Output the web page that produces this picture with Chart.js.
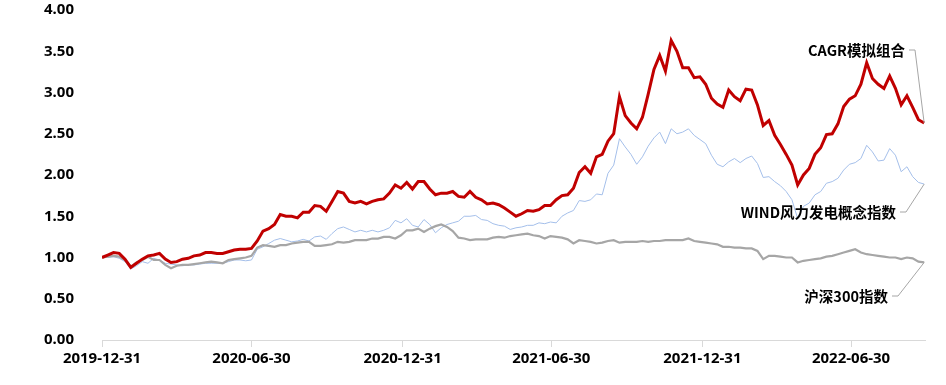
<!DOCTYPE html>
<html>
<head>
<meta charset="utf-8">
<style>
  body { margin: 0; background: #fff; }
  #wrap { width: 946px; height: 385px; }
</style>
</head>
<body>
<div id="wrap"><canvas id="nav-canvas" width="946" height="385"></canvas></div>
<script src="https://cdn.jsdelivr.net/npm/chart.js@4.4.1/dist/chart.umd.min.js"></script>
<script>
    // weekly net values, first point = 2019-12-31
    let cagr = [1.00, 1.03, 1.06, 1.05, 0.98, 0.88, 0.93, 0.98, 1.02, 1.03,
      1.05, 0.98, 0.94, 0.95, 0.98, 0.99, 1.02, 1.03, 1.06, 1.06,
      1.05, 1.05, 1.07, 1.09, 1.10, 1.10, 1.11, 1.20, 1.32, 1.35,
      1.40, 1.52, 1.50, 1.50, 1.48, 1.55, 1.55, 1.63, 1.62, 1.56,
      1.68, 1.80, 1.78, 1.68, 1.66, 1.68, 1.65, 1.68, 1.70, 1.71,
      1.78, 1.88, 1.84, 1.91, 1.83, 1.92, 1.92, 1.83, 1.76, 1.78,
      1.78, 1.80, 1.74, 1.73, 1.80, 1.73, 1.70, 1.65, 1.66, 1.64,
      1.60, 1.55, 1.50, 1.53, 1.57, 1.56, 1.58, 1.63, 1.63, 1.70,
      1.75, 1.76, 1.84, 2.03, 2.10, 2.02, 2.22, 2.25, 2.41, 2.50,
      2.95, 2.72, 2.63, 2.56, 2.70, 2.98, 3.28, 3.45, 3.26, 3.63,
      3.50, 3.30, 3.30, 3.18, 3.19, 3.10, 2.93, 2.86, 2.82, 3.03,
      2.95, 2.90, 3.04, 3.03, 2.85, 2.60, 2.66, 2.48, 2.37, 2.25,
      2.12, 1.88, 2.00, 2.08, 2.25, 2.33, 2.49, 2.50, 2.62, 2.83,
      2.92, 2.96, 3.10, 3.36, 3.17, 3.10, 3.05, 3.20, 3.05, 2.85,
      2.96, 2.82, 2.67, 2.63];

    let wind = [1.00, 1.00, 1.01, 0.99, 0.95, 0.86, 0.90, 0.95, 0.93, 0.99,
      0.97, 0.93, 0.92, 0.91, 0.90, 0.91, 0.91, 0.92, 0.93, 0.93,
      0.93, 0.93, 0.95, 0.97, 0.97, 0.96, 0.97, 1.10, 1.13, 1.17,
      1.21, 1.23, 1.21, 1.19, 1.20, 1.22, 1.20, 1.25, 1.26, 1.22,
      1.29, 1.35, 1.37, 1.34, 1.31, 1.33, 1.31, 1.33, 1.31, 1.33,
      1.36, 1.45, 1.42, 1.47, 1.39, 1.37, 1.46, 1.40, 1.30, 1.36,
      1.40, 1.42, 1.44, 1.50, 1.50, 1.51, 1.46, 1.45, 1.41, 1.39,
      1.38, 1.34, 1.36, 1.37, 1.39, 1.39, 1.42, 1.41, 1.43, 1.42,
      1.50, 1.54, 1.57, 1.69, 1.68, 1.70, 1.77, 1.76, 2.02, 2.12,
      2.44, 2.34, 2.25, 2.13, 2.22, 2.35, 2.45, 2.52, 2.38, 2.56,
      2.50, 2.52, 2.56, 2.48, 2.43, 2.38, 2.24, 2.13, 2.10, 2.16,
      2.20, 2.15, 2.20, 2.23, 2.14, 1.97, 1.98, 1.92, 1.87, 1.80,
      1.70, 1.47, 1.62, 1.66, 1.76, 1.80, 1.90, 1.92, 1.96, 2.06,
      2.13, 2.15, 2.20, 2.36, 2.28, 2.17, 2.18, 2.32, 2.24, 2.04,
      2.10, 1.98, 1.91, 1.89];

    let hs300 = [1.00, 1.01, 1.02, 1.01, 0.97, 0.89, 0.94, 0.97, 1.01, 0.97,
      0.97, 0.91, 0.87, 0.90, 0.91, 0.91, 0.92, 0.93, 0.94, 0.95,
      0.94, 0.93, 0.97, 0.98, 0.99, 1.00, 1.02, 1.12, 1.15, 1.14,
      1.13, 1.15, 1.15, 1.17, 1.18, 1.19, 1.19, 1.14, 1.14, 1.15,
      1.16, 1.19, 1.18, 1.19, 1.21, 1.21, 1.21, 1.23, 1.23, 1.25,
      1.25, 1.23, 1.27, 1.33, 1.33, 1.35, 1.31, 1.35, 1.38, 1.40,
      1.37, 1.32, 1.24, 1.23, 1.21, 1.22, 1.22, 1.22, 1.24, 1.25,
      1.24, 1.26, 1.27, 1.28, 1.29, 1.27, 1.26, 1.23, 1.26, 1.25,
      1.24, 1.22, 1.17, 1.21, 1.20, 1.19, 1.17, 1.18, 1.20, 1.21,
      1.18, 1.19, 1.19, 1.19, 1.20, 1.19, 1.20, 1.20, 1.21, 1.21,
      1.21, 1.21, 1.23, 1.20, 1.19, 1.18, 1.17, 1.16, 1.13, 1.13,
      1.12, 1.12, 1.11, 1.11, 1.08, 0.98, 1.02, 1.02, 1.01, 1.00,
      1.00, 0.94, 0.96, 0.97, 0.98, 0.99, 1.01, 1.02, 1.04, 1.06,
      1.08, 1.10, 1.06, 1.04, 1.03, 1.02, 1.01, 1.00, 1.00, 0.98,
      1.00, 0.99, 0.95, 0.94];

    // x axis: days since 2019-12-31
    let tick_days = [0, 182, 366, 547, 731, 912];
    let tick_labels = ["2019-12-31", "2020-06-30", "2020-12-31", "2021-06-30", "2021-12-31", "2022-06-30"];
    let series_names = ["CAGR模拟组合", "WIND风力发电概念指数", "沪深300指数"];

    let to_points = function(arr) {
      return arr.map((v, i) => ({x: i * 7, y: v}));
    };

    // text box (right edge, middle) for each end label; ds = dataset index
    let end_labels = [
      {ds: 0, x: 905, y: 50},
      {ds: 2, x: 896, y: 212},
      {ds: 1, x: 888, y: 296}
    ];

    let end_label_plugin = {
      id: 'endLabels',
      afterDatasetsDraw(chart) {
        let ctx = chart.ctx;
        ctx.save();
        ctx.font = 'bold 14.5px "Noto Sans CJK SC", "Noto Sans", sans-serif';
        ctx.textAlign = 'right';
        ctx.textBaseline = 'middle';
        end_labels.forEach(function(lab) {
          let pts = chart.getDatasetMeta(lab.ds).data;
          let last = pts[pts.length - 1];
          ctx.strokeStyle = '#A6A6A6';
          ctx.lineWidth = 1;
          ctx.beginPath();
          ctx.moveTo(lab.x + 4, lab.y);
          ctx.lineTo(lab.x + 10, lab.y);
          ctx.lineTo(last.x, last.y);
          ctx.stroke();
          ctx.fillStyle = '#000';
          ctx.fillText(chart.data.datasets[lab.ds].label, lab.x, lab.y);
        });
        ctx.restore();
      }
    };

    let nav_ctx = document.getElementById("nav-canvas").getContext("2d");
    let nav_chart = new Chart(nav_ctx, {
      type: 'line',
      data: {
        datasets: [
          {label: series_names[0], data: to_points(cagr), borderColor: '#C00000', borderWidth: 3, pointRadius: 0, fill: false},
          {label: series_names[2], data: to_points(hs300), borderColor: '#A6A6A6', borderWidth: 2.2, pointRadius: 0, fill: false},
          {label: series_names[1], data: to_points(wind), borderColor: '#A4BFEA', borderWidth: 1, pointRadius: 0, fill: false}
        ]
      },
      options: {
        responsive: false,
        animation: false,
        layout: {autoPadding: false, padding: {top: 10, right: 21, left: 0, bottom: 0}},
        plugins: {
          legend: {display: false},
          tooltip: {enabled: false}
        },
        scales: {
          x: {
            type: 'linear',
            min: 0,
            max: 1002,
            afterBuildTicks: function(scale) {
              scale.ticks = tick_days.map(d => ({value: d}));
            },
            afterFit: function(scale) { scale.height = 45; },
            ticks: {
              autoSkip: false,
              maxRotation: 0,
              padding: 3,
              color: '#000',
              font: {family: '"Noto Sans", sans-serif', size: 15, weight: 'bold'},
              callback: function(value) { return tick_labels[tick_days.indexOf(value)]; }
            },
            grid: {display: true, drawOnChartArea: false, drawTicks: true, tickLength: 7, color: '#D9D9D9'},
            border: {display: true, color: '#D9D9D9'}
          },
          y: {
            min: 0,
            max: 4,
            afterFit: function(scale) {
              scale.width = 102;
              scale.paddingTop = 0;
              scale.paddingBottom = 0;
            },
            ticks: {
              stepSize: 0.5,
              padding: 20,
              color: '#000',
              font: {family: '"Noto Sans", sans-serif', size: 15, weight: 'bold'},
              callback: function(value) { return value.toFixed(2); }
            },
            grid: {display: false},
            border: {display: false}
          }
        }
      },
      plugins: [end_label_plugin]
    });
</script>
</body>
</html>
